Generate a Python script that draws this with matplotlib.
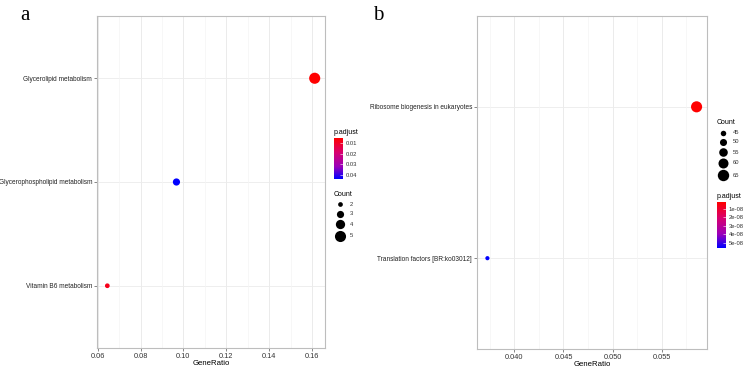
import numpy as np
import matplotlib
matplotlib.use("Agg")
import matplotlib.pyplot as plt
from matplotlib.colors import LinearSegmentedColormap, Normalize

plt.rcParams['font.family'] = ['Liberation Sans', 'DejaVu Sans']

# panel a data
a_terms = ["Glycerolipid metabolism", "Glycerophospholipid metabolism", "Vitamin B6 metabolism"]
a_ratio = [5 / 31, 3 / 31, 2 / 31]
a_count = [5, 3, 2]
a_padj = [0.0053, 0.0438, 0.0085]
a_xticks = [0.06, 0.08, 0.10, 0.12, 0.14, 0.16]
a_cticks = [0.01, 0.02, 0.03, 0.04]
a_sticks = [2, 3, 4, 5]

# panel b data
b_terms = ["Ribosome biogenesis in eukaryotes", "Translation factors [BR:ko03012]"]
b_ratio = [0.05855, 0.03726]
b_count = [64, 41]
b_padj = [1.8e-9, 5.6e-8]
b_xticks = [0.040, 0.045, 0.050, 0.055]
b_cticks = [1e-8, 2e-8, 3e-8, 4e-8, 5e-8]
b_sticks = [45, 50, 55, 60, 65]

cmap = LinearSegmentedColormap.from_list(
    "rb", [(0, "#FF0000"), (0.35, "#D9006F"), (0.7, "#9B00BA"), (1, "#0000FF")])

W, H = 750, 367
fig = plt.figure(figsize=(7.5, 3.67), dpi=100)

grid_c = "#EBEBEB"
border_c = "#BDBDBD"
fs = 4.7


def sz(c, lo, hi, dmin, dmax):
    t = (np.sqrt(c) - np.sqrt(lo)) / (np.sqrt(hi) - np.sqrt(lo))
    return (dmin + t * (dmax - dmin)) ** 2


def px(x0, y0, x1, y1):
    return [x0 / W, 1 - y1 / H, (x1 - x0) / W, (y1 - y0) / H]


def panel(rect, terms, ratio, count, padj, xticks, xlim, xfmt, norm, slo, shi, dmin, dmax, minor):
    ax = fig.add_axes(rect)
    n = len(terms)
    ypos = np.arange(n)[::-1]
    for y in ypos:
        ax.axhline(y, color=grid_c, lw=0.6, zorder=0)
    for x in minor:
        ax.axvline(x, color="#F4F4F4", lw=0.5, zorder=0)
    for x in xticks:
        ax.axvline(x, color=grid_c, lw=0.7, zorder=0)
    s = [sz(c, slo, shi, dmin, dmax) for c in count]
    ax.scatter(ratio, ypos, s=s, c=padj, cmap=cmap, norm=norm, linewidths=0, zorder=3)
    ax.set_xlim(*xlim)
    ax.set_ylim(-0.6, n - 1 + 0.6)
    ax.set_yticks(ypos)
    ax.set_yticklabels(terms, fontsize=fs, color="#222222")
    ax.set_xticks(xticks)
    ax.set_xticklabels([xfmt % v for v in xticks], fontsize=fs + 0.6, color="#333333")
    ax.set_xlabel("GeneRatio", fontsize=fs + 0.9, labelpad=0)
    ax.tick_params(length=2, width=0.5, color="#555555", pad=1.5)
    for sp in ax.spines.values():
        sp.set_color(border_c)
        sp.set_linewidth(0.8)
    return ax


na = Normalize(0.0053, 0.0438)
panel(px(97, 16, 325, 348), a_terms, a_ratio, a_count, a_padj, a_xticks,
      (0.0597, 0.1661), "%.2f", na, 2, 5, 3.4, 8.0,
      [0.07, 0.09, 0.11, 0.13, 0.15])

nb = Normalize(1.8e-9, 5.6e-8)
panel(px(477, 16, 707, 349), b_terms, b_ratio, b_count, b_padj, b_xticks,
      (0.03620, 0.05961), "%.3f", nb, 41, 64, 3.0, 8.0,
      [0.0375, 0.0425, 0.0475, 0.0525, 0.0575])


def colorbar(rect, norm, ticks, fmt, title):
    cax = fig.add_axes(rect)
    grad = np.linspace(norm.vmin, norm.vmax, 200).reshape(-1, 1)
    cax.imshow(grad, aspect="auto", cmap=cmap, norm=norm,
               extent=[0, 1, norm.vmax, norm.vmin])
    cax.set_ylim(norm.vmax, norm.vmin)
    cax.set_xticks([])
    cax.yaxis.tick_right()
    cax.set_yticks(ticks)
    cax.set_yticklabels([fmt(t) for t in ticks], fontsize=fs - 0.5, color="#333333")
    cax.tick_params(axis="y", length=2, width=0.4, color="white", pad=2, direction="in")
    for sp in cax.spines.values():
        sp.set_visible(False)
    cax.text(0, 1.04, title, transform=cax.transAxes, fontsize=fs + 0.3, va="bottom", ha="left")


def sizelegend(x, ys, vals, slo, shi, dmin, dmax, title, ytitle):
    for y, v in zip(ys, vals):
        fig.add_artist(plt.Line2D([x / W], [1 - y / H], marker="o", color="black", lw=0,
                                  markersize=np.sqrt(sz(v, slo, shi, dmin, dmax)),
                                  markeredgewidth=0, transform=fig.transFigure))
        fig.text((x + 10) / W, 1 - y / H, str(v), fontsize=fs - 0.5, va="center", color="#333333")
    fig.text((x - 6) / W, 1 - ytitle / H, title, fontsize=fs + 0.3, va="center")


colorbar(px(334, 138, 343, 179), na, a_cticks, lambda t: "%.2f" % t, "p.adjust")
sizelegend(340, [204, 214, 224, 236], a_sticks, 2, 5, 3.4, 8.0, "Count", 194)

colorbar(px(717, 202, 726, 248), nb, b_cticks, lambda t: "%.0e" % t, "p.adjust")
sizelegend(723, [133, 142, 152, 163, 175], b_sticks, 41, 64, 3.0, 8.0, "Count", 122)

fig.text(20 / W, 1 - 15 / H, "a", fontsize=15, family="Liberation Serif", va="center")
fig.text(373 / W, 1 - 15 / H, "b", fontsize=15, family="Liberation Serif", va="center")

fig.savefig("out.png", dpi=100)
